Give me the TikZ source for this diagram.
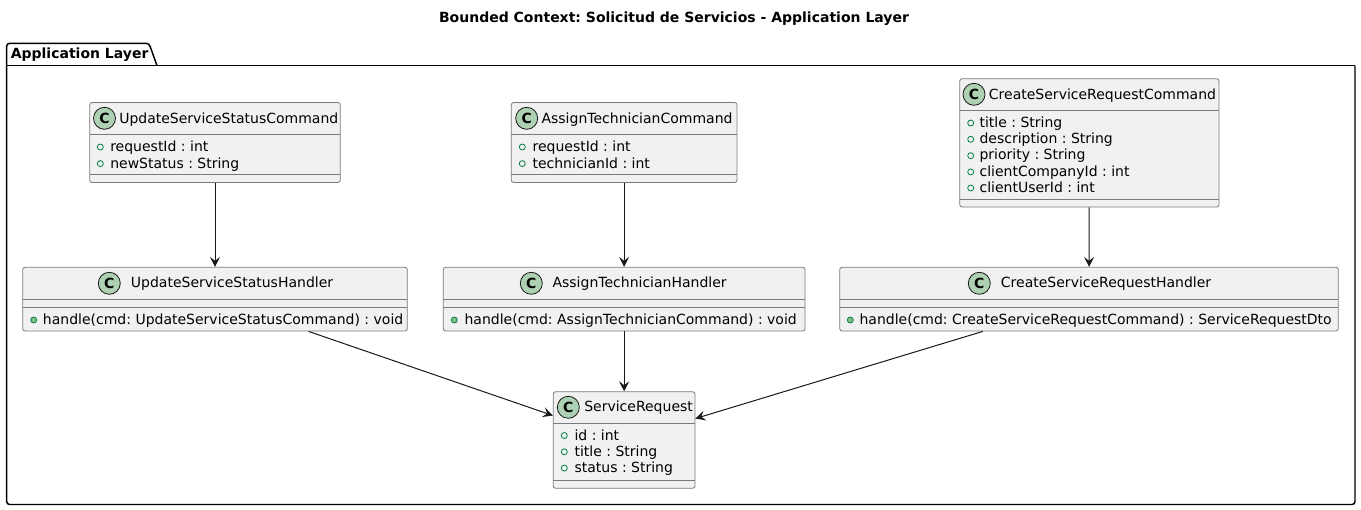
\documentclass[tikz,border=0pt]{standalone}
\usepackage{fontspec}
\setmainfont{DejaVu Sans}
\usetikzlibrary{fit,arrows.meta}
\definecolor{boxfill}{HTML}{F1F1F1}
\definecolor{boxline}{HTML}{7A7A7A}
\definecolor{spotline}{HTML}{181818}
\definecolor{spot}{HTML}{ADD1B2}
\definecolor{publine}{HTML}{038048}
\definecolor{pubfill}{HTML}{84BE84}
\tikzset{
  classbox/.style={draw=boxline,fill=boxfill,line width=.6pt,rounded corners=1.8pt,inner sep=0pt},
  spotc/.style={circle,draw=spotline,fill=spot,line width=.6pt,minimum size=16.5pt,inner sep=0pt,font=\fontsize{10.5}{11}\selectfont\bfseries},
  cname/.style={anchor=base west,inner sep=0pt,font=\fontsize{10.5}{12}\selectfont},
  member/.style={cname},
  pubfield/.style={circle,draw=publine,line width=.6pt,minimum size=4.5pt,inner sep=0pt},
  pubmethod/.style={pubfield,fill=pubfill},
  sepline/.style={draw=boxline,line width=.6pt},
  arrowline/.style={draw=spotline,line width=.75pt,-{Stealth[length=7.5pt,width=7.5pt,inset=3pt]}},
  pack/.style={draw=black,line width=1.1pt}
}
\begin{document}
\frenchspacing
\begin{tikzpicture}[x=.75pt,y=-.75pt]
\useasboundingbox (0,0) rectangle (1361,510);
\node[inner sep=0pt,font=\fontsize{10.5}{12}\selectfont\bfseries] (title) at (674,18.5) {Bounded Context: Solicitud de Servicios - Application Layer};
% package
\draw[pack,rounded corners=2.2pt] (6.7,65.6) -- (6.7,43.3) -- (149,43.3) -- (157,65.6);
\draw[pack,rounded corners=2.2pt] (6.7,65.6) -- (6.7,504.5) -- (1355,504.5) -- (1355,65.6);
\draw[pack] (6.7,65.6) -- (1355,65.6);
\node[cname,font=\fontsize{10.5}{12}\selectfont\bfseries] (packname) at (10.5,58.3) {Application Layer};
% commands
\node[classbox,fit={(89.7,102.5) (340.3,182.5)}] (updcmd) {};
\draw[sepline] (89.7,134.7) -- (340.3,134.7) (89.7,174.5) -- (340.3,174.5);
\node[spotc] (updcmdc) at (104.5,118.3) {C};
\node[cname] (updcmdt) at (119,123.3) {UpdateServiceStatusCommand};
\foreach \i/\y/\t in {1/151.7/requestId : int,2/168.3/newStatus : String}{
  \node[pubfield] (updcmdd\i) at (100.3,\y-4.7) {};
  \node[member] (updcmdm\i) at (110,\y) {\t};
}
\node[classbox,fit={(511.3,102.5) (737,182.5)}] (asgcmd) {};
\draw[sepline] (511.3,134.7) -- (737,134.7) (511.3,174.5) -- (737,174.5);
\node[spotc] (asgcmdc) at (526.7,118.3) {C};
\node[cname] (asgcmdt) at (541.3,123.3) {AssignTechnicianCommand};
\foreach \i/\y/\t in {1/151.7/requestId : int,2/168.3/technicianId : int}{
  \node[pubfield] (asgcmdd\i) at (522.3,\y-4.7) {};
  \node[member] (asgcmdm\i) at (532.3,\y) {\t};
}
\node[classbox,fit={(959.7,78.7) (1219,207)}] (crtcmd) {};
\draw[sepline] (959.7,110.7) -- (1219,110.7) (959.7,199.3) -- (1219,199.3);
\node[spotc] (crtcmdc) at (974,94.3) {C};
\node[cname] (crtcmdt) at (988.7,99.3) {CreateServiceRequestCommand};
\foreach \i/\y/\t in {1/127.3/title : String,2/143.6/description : String,3/160/priority : String,4/176.2/clientCompanyId : int,5/192.3/clientUserId : int}{
  \node[pubfield] (crtcmdd\i) at (970.7,\y-4.3) {};
  \node[member] (crtcmdm\i) at (979.3,\y) {\t};
}
% handlers
\node[classbox,fit={(22.7,267.3) (407.3,331)}] (updhnd) {};
\draw[sepline] (22.7,299.3) -- (407.3,299.3) (22.7,307.3) -- (407.3,307.3);
\node[spotc] (updhndc) at (109.3,283.3) {C};
\node[cname] (updhndt) at (130.7,287.3) {UpdateServiceStatusHandler};
\node[pubmethod] (updhndd) at (33.7,320) {};
\node[member] (updhndm) at (42.7,324) {handle(cmd: UpdateServiceStatusCommand) : void};
\node[classbox,fit={(443.3,267.3) (805,331)}] (asghnd) {};
\draw[sepline] (443.3,299.3) -- (805,299.3) (443.3,307.3) -- (805,307.3);
\node[spotc] (asghndc) at (531.3,283.3) {C};
\node[cname] (asghndt) at (552.3,287.3) {AssignTechnicianHandler};
\node[pubmethod] (asghndd) at (454.3,320) {};
\node[member] (asghndm) at (464.3,324) {handle(cmd: AssignTechnicianCommand) : void};
\node[classbox,fit={(839.7,267.3) (1338.3,331)}] (crthnd) {};
\draw[sepline] (839.7,299.3) -- (1338.3,299.3) (839.7,307.3) -- (1338.3,307.3);
\node[spotc] (crthndc) at (979.3,283.3) {C};
\node[cname] (crthndt) at (1000.7,287.3) {CreateServiceRequestHandler};
\node[pubmethod] (crthndd) at (850.3,320) {};
\node[member] (crthndm) at (859.3,324) {handle(cmd: CreateServiceRequestCommand) : ServiceRequestDto};
% entity
\node[classbox,fit={(553.3,391.7) (695,488.3)}] (srvreq) {};
\draw[sepline] (553.3,423.3) -- (695,423.3) (553.3,480) -- (695,480);
\node[spotc] (srvreqc) at (568.3,407.3) {C};
\node[cname] (srvreqt) at (584,411.7) {ServiceRequest};
\foreach \i/\y/\t in {1/440/id : int,2/456.3/title : String,3/472.6/status : String}{
  \node[pubfield] (srvreqd\i) at (564.3,\y-4.5) {};
  \node[member] (srvreqm\i) at (574.3,\y) {\t};
}
% arrows
\draw[arrowline] (updcmd) -- (updhnd);
\draw[arrowline] (asgcmd) -- (asghnd);
\draw[arrowline] (crtcmd) -- (crthnd);
\draw[arrowline] (updhnd) -- (srvreq);
\draw[arrowline] (asghnd) -- (srvreq);
\draw[arrowline] (crthnd) -- (srvreq);
\end{tikzpicture}
\end{document}
